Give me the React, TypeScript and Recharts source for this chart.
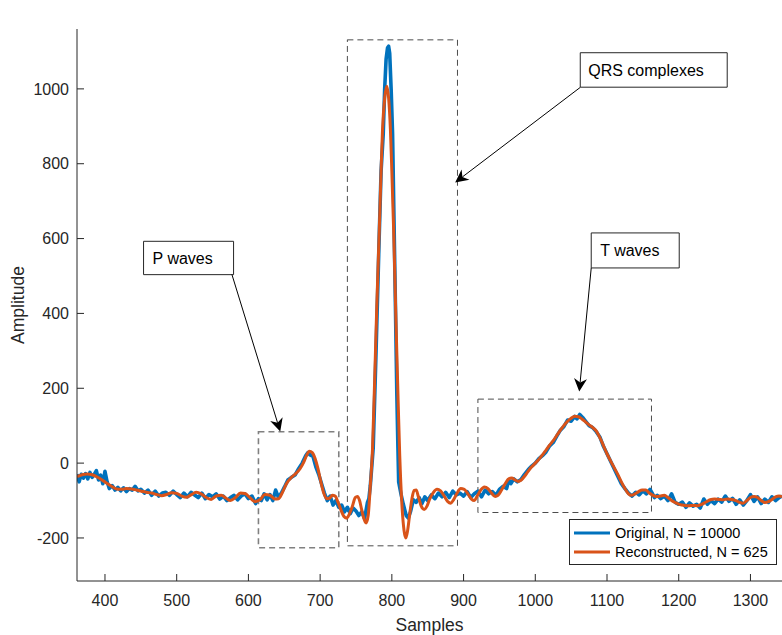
import { LineChart, Line, XAxis, YAxis, ReferenceArea, ReferenceLine, Legend } from "recharts"

// Original signal (noisy)
const originalX = [
  361, 364, 367, 370, 373, 376, 379, 382, 385, 388, 391, 394, 397, 400, 403, 406, 410, 414, 418, 422,
  426, 430, 434, 438, 442, 446, 450, 455, 460, 465, 470, 475, 480, 485, 490, 495, 500, 505, 510, 515,
  520, 525, 530, 535, 540, 545, 550, 555, 560, 565, 570, 575, 580, 585, 590, 595, 600, 605, 610, 614,
  618, 622, 626, 630, 634, 638, 642, 646, 650, 655, 660, 665, 670, 675, 680, 683, 686, 690, 694, 698,
  702, 706, 710, 714, 718, 722, 726, 730, 734, 738, 742, 746, 750, 754, 758, 762, 766, 768, 770, 774,
  778, 782, 785, 788, 790, 792, 794, 795.5, 797, 799, 801, 803, 805, 807, 808.5, 809.5, 813, 816, 820, 823,
  826, 830, 834, 838, 842, 846, 850, 855, 860, 865, 870, 875, 880, 885, 890, 895, 900, 905, 910, 915,
  920, 925, 930, 935, 940, 945, 950, 955, 960, 963, 966, 970, 975, 980, 985, 990, 995, 1000, 1005, 1010,
  1015, 1020, 1025, 1030, 1035, 1040, 1045, 1050, 1055, 1058, 1062, 1066, 1070, 1075, 1080, 1085, 1090, 1095, 1100, 1105,
  1110, 1115, 1120, 1125, 1130, 1135, 1140, 1145, 1150, 1155, 1160, 1163, 1166, 1170, 1175, 1180, 1185, 1190, 1195, 1200,
  1205, 1210, 1215, 1220, 1225, 1230, 1235, 1240, 1245, 1250, 1255, 1260, 1265, 1270, 1275, 1280, 1285, 1290, 1295, 1300,
  1305, 1310, 1315, 1320, 1325, 1330, 1335, 1340, 1344,
]
const originalY = [
  -30, -50, -30, -40, -28, -42, -25, -38, -30, -20, -45, -32, -55, -22, -50, -68, -60, -72, -65, -74,
  -66, -76, -68, -72, -62, -74, -70, -80, -72, -86, -75, -88, -80, -78, -86, -75, -84, -92, -80, -90,
  -78, -85, -92, -80, -95, -84, -90, -82, -96, -88, -100, -92, -86, -98, -88, -82, -95, -88, -108, -95,
  -100, -82, -98, -84, -100, -72, -92, -80, -65, -45, -38, -32, -15, 0, 20, 28, 22, 18, -10, -30,
  -55, -80, -100, -88, -112, -100, -118, -112, -130, -118, -135, -120, -128, -140, -130, -148, -105, -95, -60, 40,
  300, 580, 780, 880, 1000, 1080, 1110, 1114, 1095, 1000, 880, 650, 420, 180, 40, -50, -85, -110, -140, -147,
  -130, -98, -105, -92, -108, -90, -100, -85, -95, -80, -90, -78, -92, -75, -85, -80, -88, -76, -92, -82,
  -75, -90, -72, -82, -76, -86, -70, -62, -68, -45, -55, -42, -50, -44, -30, -18, -8, 0, 12, 20,
  30, 46, 55, 72, 88, 98, 115, 112, 125, 118, 130, 122, 112, 100, 95, 84, 70, 45, 25, 5,
  -15, -35, -55, -68, -80, -88, -78, -85, -74, -82, -70, -80, -92, -86, -95, -88, -100, -82, -105, -110,
  -104, -118, -106, -115, -110, -120, -96, -110, -100, -108, -96, -104, -88, -102, -94, -110, -98, -112, -100, -84,
  -102, -90, -108, -96, -105, -90, -100, -92, -88,
]

// Reconstructed signal (smooth)
const reconX = [
  361, 368, 375, 382, 389, 396, 402, 409, 416, 423, 430, 437, 444, 451, 458, 465, 472, 479, 486, 493,
  500, 507, 514, 520, 527, 534, 541, 548, 555, 562, 569, 575, 582, 589, 595, 602, 609, 616, 623, 630,
  637, 642, 647, 653, 660, 666, 672, 677, 681, 685, 689, 693, 697, 701, 705, 709, 713, 717, 721, 725,
  729, 733, 737, 741, 745, 749, 752, 755, 758, 761, 764, 767, 770, 773, 776, 779, 782.5, 785, 787, 790,
  793, 795.5, 798, 800, 802.5, 806, 809, 811, 814, 817, 819.5, 822, 825, 828, 831, 834, 837, 841, 845, 849,
  853, 858, 863, 868, 873, 878, 882, 886, 891, 896, 901, 906, 911, 915, 919, 924, 929, 934, 939, 944,
  948, 953, 958, 963, 967, 972, 976, 980, 985, 990, 995, 1000, 1005, 1010, 1015, 1020, 1025, 1030, 1035, 1040,
  1045, 1050, 1055, 1060, 1065, 1070, 1075, 1080, 1085, 1090, 1095, 1100, 1105, 1110, 1115, 1120, 1125, 1130, 1134, 1139,
  1144, 1149, 1154, 1159, 1164, 1169, 1174, 1180, 1185, 1190, 1196, 1202, 1208, 1214, 1220, 1226, 1232, 1238, 1244, 1250,
  1256, 1262, 1268, 1274, 1280, 1285, 1290, 1295, 1300, 1305, 1310, 1315, 1320, 1325, 1330, 1335, 1340, 1344,
]
const reconY = [
  -36, -31, -29, -31, -37, -45, -53, -62, -69, -70, -68, -69, -72, -75, -78, -80, -84, -87, -84, -79,
  -81, -88, -91, -85, -78, -82, -92, -97, -88, -86, -94, -100, -92, -80, -81, -92, -103, -98, -84, -86,
  -96, -95, -80, -55, -38, -28, -15, 2, 20, 32, 28, 12, -15, -50, -80, -95, -94, -86, -88, -105,
  -125, -142, -147, -135, -115, -92, -89, -100, -125, -148, -160, -140, -60, 36, 220, 420, 624, 780, 891, 975,
  1007, 975, 891, 780, 624, 360, 150, 20, -110, -180, -200, -180, -135, -95, -73, -72, -90, -115, -124, -115,
  -95, -78, -70, -74, -88, -103, -107, -98, -80, -68, -70, -82, -96, -100, -88, -72, -64, -68, -80, -89,
  -86, -72, -55, -42, -40, -45, -49, -46, -35, -22, -10, 0, 10, 22, 35, 48, 60, 74, 88, 101,
  112, 120, 125, 124, 118, 110, 102, 95, 86, 68, 47, 25, 6, -12, -30, -50, -68, -82, -86, -82,
  -76, -72, -72, -80, -86, -89, -88, -86, -92, -100, -106, -111, -113, -114, -113, -114, -110, -104, -98, -96,
  -97, -98, -96, -97, -100, -105, -107, -100, -92, -89, -92, -100, -105, -103, -97, -90, -88, -90,
]

const xTicks = [400, 500, 600, 700, 800, 900, 1000, 1100, 1200, 1300]
const yTicks = [-200, 0, 200, 400, 600, 800, 1000]

const original = originalX.map((x, i) => ({ x, y: originalY[i] }))
const reconstructed = reconX.map((x, i) => ({ x, y: reconY[i] }))

const BLUE = "#0072BD"
const ORANGE = "#D95319"
const INK = "#262626"
const FONT = '"Liberation Sans", Arial, Helvetica, sans-serif'

// ticks point inward, MATLAB style
function BottomTick({ x, y, payload }: any) {
  return (
    <g>
      <line x1={x} x2={x} y1={y} y2={y - 7} stroke={INK} />
      <text x={x} y={y + 25} textAnchor="middle" fill={INK} fontSize={16} fontFamily={FONT}>
        {payload.value}
      </text>
    </g>
  )
}

function TopTick({ x, y }: any) {
  return <line x1={x} x2={x} y1={y} y2={y + 7} stroke={INK} />
}

function LeftTick({ x, y, payload }: any) {
  return (
    <g>
      <line x1={x} x2={x + 7} y1={y} y2={y} stroke={INK} />
      <text x={x - 8} y={y} dy="0.36em" textAnchor="end" fill={INK} fontSize={16} fontFamily={FONT}>
        {payload.value}
      </text>
    </g>
  )
}

function Arrow({ x1, y1, x2, y2 }: any) {
  const a = Math.atan2(y2 - y1, x2 - x1)
  const ux = Math.cos(a), uy = Math.sin(a)
  const L = 13, W = 6.5
  const bx = x2 - L * ux, by = y2 - L * uy
  const nx = x2 - 0.7 * L * ux, ny = y2 - 0.7 * L * uy
  const pts = [
    [x2, y2],
    [bx - W * uy, by + W * ux],
    [nx, ny],
    [bx + W * uy, by - W * ux],
  ].map((p) => p.join(",")).join(" ")
  return (
    <g>
      <line x1={x1} y1={y1} x2={nx} y2={ny} stroke="#000" strokeWidth={1} />
      <polygon points={pts} fill="#000" />
    </g>
  )
}

function LegendBox() {
  return (
    <svg width={208} height={46} style={{ display: "block" }}>
      <rect x={0.5} y={0.5} width={207} height={45} fill="#fff" stroke={INK} />
      <line x1={5} x2={41} y1={14} y2={14} stroke={BLUE} strokeWidth={3} />
      <line x1={5} x2={41} y1={33} y2={33} stroke={ORANGE} strokeWidth={3} />
      <text x={46} y={14} dy="0.36em" fontSize={14.5} fontFamily={FONT} fill="#000">
        Original, N = 10000
      </text>
      <text x={46} y={33} dy="0.36em" fontSize={14.5} fontFamily={FONT} fill="#000">
        Reconstructed, N = 625
      </text>
    </svg>
  )
}

const boxLabel = (value: string, offset: number) => ({
  value,
  position: "insideLeft" as const,
  offset,
  fill: "#000",
  fontSize: 16,
  fontFamily: FONT,
})

export default function App() {
  return (
    <div style={{ width: 782, height: 635, background: "#fff" }}>
      <style>{"body{margin:0}"}</style>
      <LineChart
        width={782}
        height={635}
        margin={{ top: 29, right: 0, bottom: 0, left: 0 }}
        style={{ fontFamily: FONT }}
      >
        <XAxis
          type="number"
          dataKey="x"
          domain={[361, 1344]}
          ticks={xTicks}
          allowDataOverflow
          height={54}
          tickSize={0}
          tickMargin={0}
          tick={<BottomTick />}
          axisLine={{ stroke: INK }}
          label={{ value: "Samples", position: "insideBottom", offset: 4, fill: INK, fontSize: 17.5, fontFamily: FONT }}
        />
        <XAxis
          xAxisId="top"
          orientation="top"
          type="number"
          dataKey="x"
          domain={[361, 1344]}
          ticks={xTicks}
          allowDataOverflow
          height={0}
          tickSize={0}
          tickMargin={0}
          tick={<TopTick />}
          axisLine={{ stroke: INK }}
          label={{
            value: "Original and reconstructed signal",
            position: "top",
            offset: 7,
            dx: 4,
            fill: "#000",
            fontSize: 17.5,
            fontWeight: "bold",
            fontFamily: FONT,
          }}
        />
        <YAxis
          type="number"
          dataKey="y"
          domain={[-315, 1160]}
          ticks={yTicks}
          allowDataOverflow
          width={77}
          tickSize={0}
          tickMargin={0}
          tick={<LeftTick />}
          axisLine={{ stroke: INK }}
          label={{
            value: "Amplitude",
            angle: -90,
            position: "insideLeft",
            offset: 18,
            fill: INK,
            fontSize: 17.5,
            fontFamily: FONT,
            style: { textAnchor: "middle" },
          }}
        />

        {/* dashed regions */}
        <ReferenceArea x1={614} x2={726} y1={-226} y2={84} fill="none" stroke="#808080" strokeWidth={1.6} strokeDasharray="6 4" />
        <ReferenceArea x1={738} x2={891.5} y1={-221} y2={1131} fill="none" stroke="#4d4d4d" strokeDasharray="6 4" />
        <ReferenceArea x1={920} x2={1162} y1={-132} y2={171} fill="none" stroke="#4d4d4d" strokeDasharray="6 4" />

        <Line data={original} dataKey="y" type="linear" stroke={BLUE} strokeWidth={3.6} strokeLinejoin="round" dot={false} isAnimationActive={false} name="Original, N = 10000" />
        <Line data={reconstructed} dataKey="y" type="monotone" stroke={ORANGE} strokeWidth={3} dot={false} isAnimationActive={false} name="Reconstructed, N = 625" />

        {/* annotations */}
        <ReferenceLine segment={[{ x: 1062.7, y: 1004 }, { x: 888.3, y: 750 }]} shape={(p: any) => <Arrow {...p} />} />
        <ReferenceLine segment={[{ x: 577, y: 504 }, { x: 644.4, y: 84.5 }]} shape={(p: any) => <Arrow {...p} />} />
        <ReferenceLine segment={[{ x: 1078, y: 521.5 }, { x: 1061.3, y: 191.5 }]} shape={(p: any) => <Arrow {...p} />} />

        <ReferenceArea x1={1062.7} x2={1267.6} y1={1004.5} y2={1096.6} fill="#fff" fillOpacity={1} stroke={INK} label={boxLabel("QRS complexes", 8)} />
        <ReferenceArea x1={453.8} x2={579.3} y1={503.6} y2={592.7} fill="#fff" fillOpacity={1} stroke={INK} label={boxLabel("P waves", 9)} />
        <ReferenceArea x1={1078} x2={1200.7} y1={521.5} y2={615.1} fill="#fff" fillOpacity={1} stroke={INK} label={boxLabel("T waves", 9)} />

        <Legend
          layout="vertical"
          align="center"
          verticalAlign="middle"
          wrapperStyle={{ left: 569, top: 519, width: 208, height: 46 }}
          content={() => <LegendBox />}
        />
      </LineChart>
    </div>
  )
}
